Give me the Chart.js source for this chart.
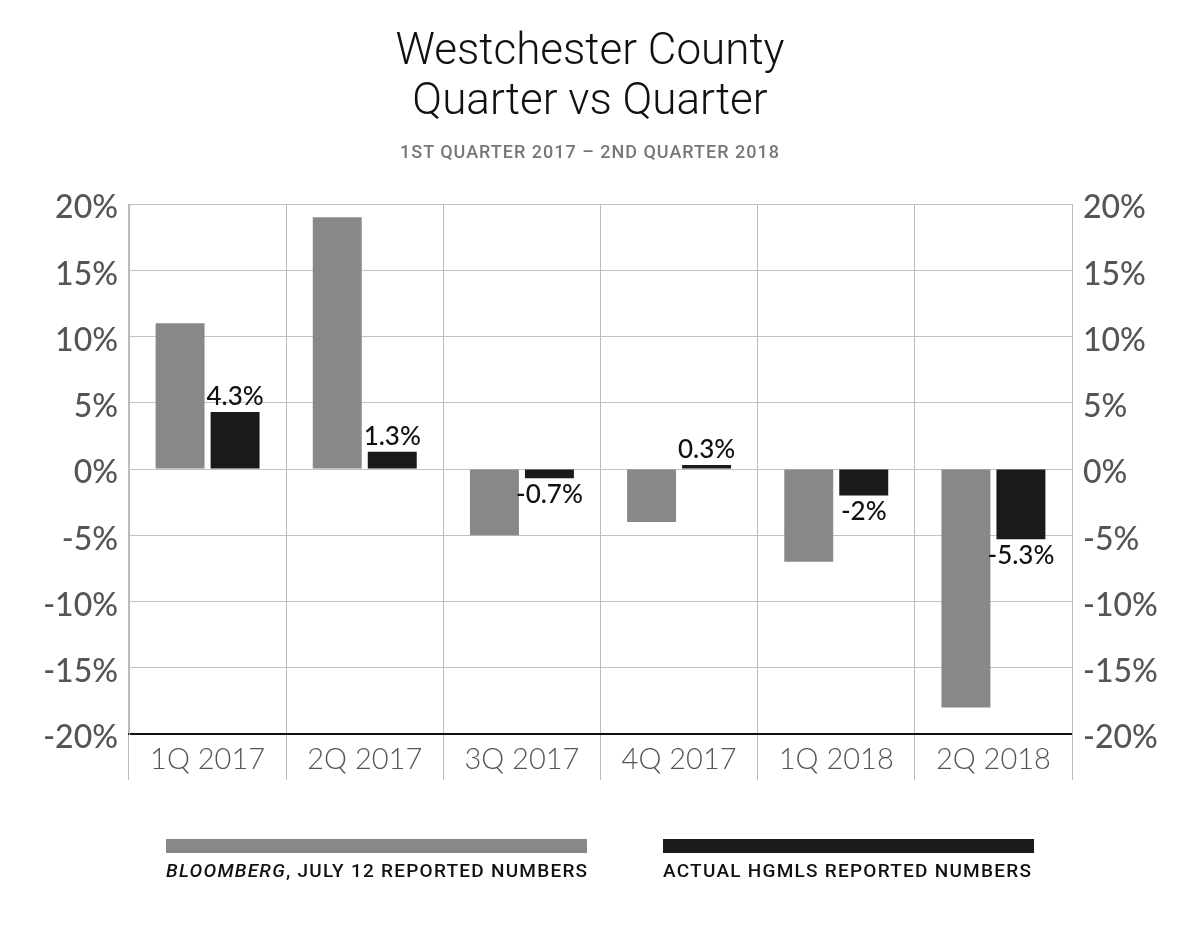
<!DOCTYPE html>
<html>
<head>
<meta charset="utf-8">
<script src="https://cdn.jsdelivr.net/npm/chart.js@4"></script>
<style>
  body { margin: 0; background: #fff; }
  #wrap { position: relative; width: 1200px; height: 927px; }
  #chart { position: absolute; left: 0; top: 0; }
  .title {
    position: absolute; left: 0; width: 1180px; text-align: center;
    font-family: "Roboto", sans-serif;
    color: #111;
  }
  .legend-bar { position: absolute; height: 14px; }
  .legend-text {
    position: absolute; font-family: "Roboto", sans-serif; font-weight: 500;
    font-size: 19px; letter-spacing: 1.25px; color: #111; white-space: nowrap;
  }
</style>
</head>
<body>
<div id="wrap">
  <canvas id="chart" width="1200" height="927"></canvas>
  <div class="title" style="top:24px;font-size:44px;line-height:50px;font-weight:300;">Westchester County<br>Quarter vs Quarter</div>
  <div class="title" style="top:141px;font-size:18px;letter-spacing:1px;color:#777;font-weight:500;">1ST QUARTER 2017 – 2ND QUARTER 2018</div>
  <div class="legend-bar" style="left:166px;top:839px;width:421px;background:#888888;"></div>
  <div class="legend-text" style="left:166px;top:859px;"><i>BLOOMBERG</i>, JULY 12 REPORTED NUMBERS</div>
  <div class="legend-bar" style="left:663px;top:839px;width:371px;background:#1a1a1a;"></div>
  <div class="legend-text" style="left:663px;top:859px;">ACTUAL HGMLS REPORTED NUMBERS</div>
</div>
<script>
const quarters = ["1Q 2017", "2Q 2017", "3Q 2017", "4Q 2017", "1Q 2018", "2Q 2018"];
const bloombergValues = [11, 19, -5, -4, -7, -18];
const hgmlsValues = [4.3, 1.3, -0.7, 0.3, -2, -5.3];

const axisFont = { family: "Lato", size: 32, weight: "500" };

const barLabels = {
  id: "barLabels",
  afterDatasetsDraw(chart) {
    const ctx = chart.ctx;
    const meta = chart.getDatasetMeta(1);
    ctx.save();
    ctx.font = "500 26px Lato";
    ctx.fillStyle = "#111";
    ctx.textAlign = "center";
    meta.data.forEach((bar, i) => {
      const v = hgmlsValues[i];
      if (v >= 0) {
        ctx.textBaseline = "bottom";
        ctx.fillText(v + "%", bar.x, bar.y - 2);
      } else {
        ctx.textBaseline = "top";
        ctx.fillText(v + "%", bar.x, bar.y + 3);
      }
    });
    ctx.restore();
  },
};

new Chart("chart", {
  type: "bar",
  data: {
    labels: quarters,
    datasets: [
      {
        label: "Bloomberg, July 12 reported numbers",
        data: bloombergValues,
        backgroundColor: "#888888",
        categoryPercentage: 0.7,
        barPercentage: 0.89,
      },
      {
        label: "Actual HGMLS reported numbers",
        data: hgmlsValues,
        backgroundColor: "#1a1a1a",
        categoryPercentage: 0.7,
        barPercentage: 0.89,
      },
    ],
  },
  options: {
    responsive: false,
    animation: false,
    layout: { padding: { top: 204, bottom: 133, left: 0, right: 0 } },
    plugins: {
      legend: { display: false },
      tooltip: { enabled: false },
    },
    scales: {
      x: {
        grid: {
          offset: true,
          color: "#bbbbbb",
          lineWidth: 1,
          tickLength: 46,
        },
        border: { color: "#111", width: 2 },
        ticks: {
          font: { family: "Lato", size: 29, weight: "300" },
          color: "#555",
          padding: -38,
        },
        afterFit(scale) {
          scale.height = 60;
        },
      },
      y: {
        min: -20,
        max: 20,
        grid: {
          drawTicks: false,
          color: (c) => (c.tick && c.tick.value === -20 ? "#111" : "#c2c2c2"),
          lineWidth: (c) => (c.tick && c.tick.value === -20 ? 2 : 1),
        },
        border: { color: "#bbbbbb" },
        ticks: {
          stepSize: 5,
          font: axisFont,
          color: "#555",
          padding: 11,
          labelOffset: 4,
          callback: (v) => v + "%",
        },
        afterFit(scale) {
          scale.width = 129;
        },
      },
      y2: {
        position: "right",
        min: -20,
        max: 20,
        grid: { display: false, drawTicks: false },
        border: { color: "#bbbbbb" },
        ticks: {
          stepSize: 5,
          font: axisFont,
          color: "#555",
          padding: 11,
          labelOffset: 4,
          callback: (v) => v + "%",
        },
        afterFit(scale) {
          scale.width = 128;
        },
      },
    },
  },
  plugins: [barLabels],
});
</script>
</body>
</html>
